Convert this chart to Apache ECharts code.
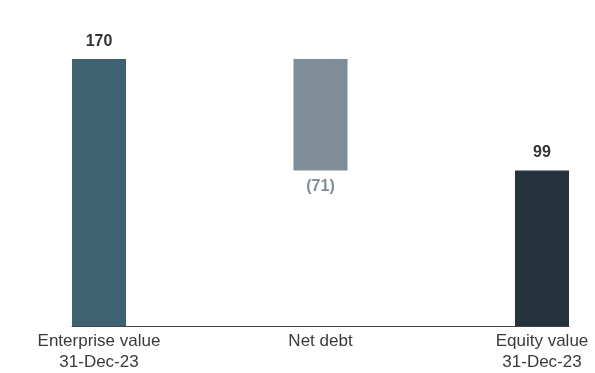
<!DOCTYPE html>
<html>
<head>
<meta charset="utf-8">
<script src="https://cdn.jsdelivr.net/npm/echarts@6/dist/echarts.min.js"></script>
<style>
html,body{margin:0;padding:0;background:#fff;}
#c{width:595px;height:373px;}
</style>
</head>
<body>
<div id="c"></div>
<script>
const categories = ['Enterprise value\n31-Dec-23', 'Net debt', 'Equity value\n31-Dec-23'];
const baseValues = [0, 99, 0];
const barValues = [170, 71, 99];
const labelTexts = ['170', '(71)', '99'];
const barColors = ['#3f6272', '#7f8d98', '#26333c'];

const chart = echarts.init(document.getElementById('c'), null, {renderer: 'canvas'});
const font = 'Liberation Sans, Arial, Helvetica, sans-serif';

chart.setOption({
  animation: false,
  grid: [
    {left: 99, right: 53, top: 12, bottom: 47},
    {left: 72, right: 26, top: 12, bottom: 47}
  ],
  xAxis: [
    {
      type: 'category',
      gridIndex: 0,
      data: categories,
      boundaryGap: false,
      axisLine: {show: false},
      axisTick: {show: false},
      axisLabel: {
        color: '#3a3a3a',
        fontSize: 17,
        lineHeight: 21,
        margin: 5,
        fontFamily: font,
        interval: 0
      },
      splitLine: {show: false}
    },
    {
      type: 'value',
      gridIndex: 1,
      min: 0,
      max: 1,
      axisLine: {show: true, onZero: false, lineStyle: {color: '#444', width: 1}},
      axisTick: {show: false},
      axisLabel: {show: false},
      splitLine: {show: false}
    }
  ],
  yAxis: [
    {type: 'value', gridIndex: 0, min: 0, max: 200, show: false, splitLine: {show: false}},
    {type: 'value', gridIndex: 1, min: 0, max: 1, show: false, splitLine: {show: false}}
  ],
  series: [
    {
      type: 'bar',
      stack: 'w',
      xAxisIndex: 0,
      yAxisIndex: 0,
      data: baseValues,
      barWidth: 54,
      itemStyle: {color: 'transparent'},
      silent: true
    },
    {
      type: 'bar',
      stack: 'w',
      xAxisIndex: 0,
      yAxisIndex: 0,
      barWidth: 54,
      data: barValues.map((v, i) => ({
        value: v,
        itemStyle: {color: barColors[i]},
        label: {
          show: true,
          position: i === 1 ? 'bottom' : 'top',
          distance: i === 1 ? 8 : 10,
          formatter: labelTexts[i],
          color: i === 1 ? '#7f8d98' : '#333333',
          fontWeight: 'bold',
          fontSize: 16,
          fontFamily: font
        }
      }))
    }
  ]
});
</script>
</body>
</html>
